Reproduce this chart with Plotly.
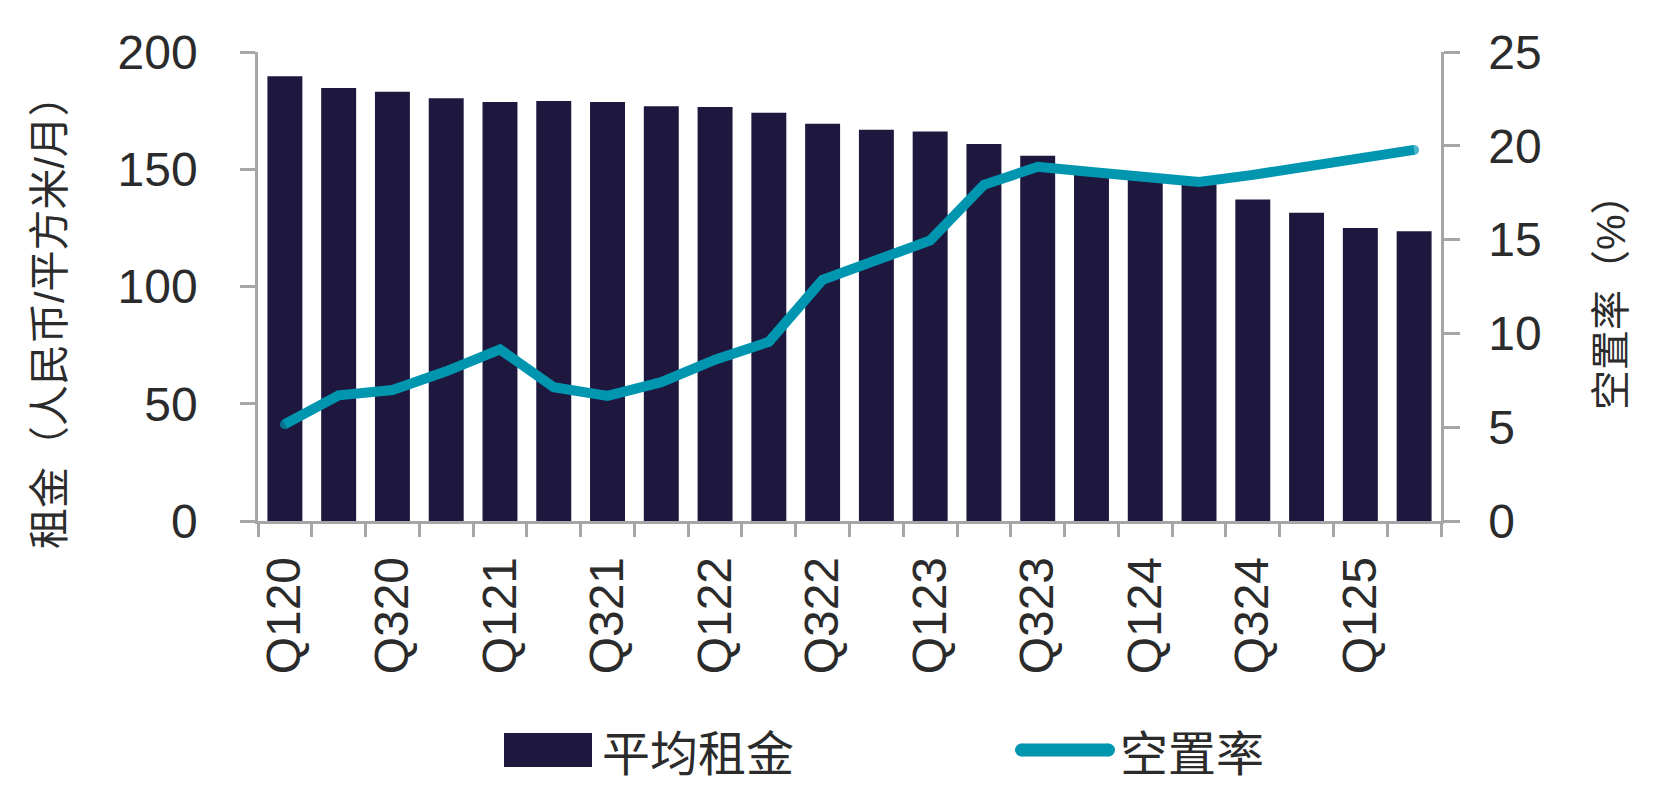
import plotly.graph_objects as go

quarters = ["Q120", "Q220", "Q320", "Q420", "Q121", "Q221", "Q321", "Q421",
            "Q122", "Q222", "Q322", "Q422", "Q123", "Q223", "Q323", "Q423",
            "Q124", "Q224", "Q324", "Q424", "Q125", "Q225"]
tick_labels = [q if i % 2 == 0 else "" for i, q in enumerate(quarters)]

avg_rent = [189.7, 184.6, 183.0, 180.3, 178.7, 179.1, 178.7, 176.9, 176.5, 174.1,
            169.4, 166.8, 166.1, 160.8, 155.8, 149.5, 146.5, 143.5, 137.1, 131.4,
            124.9, 123.6]
vacancy = [5.16, 6.70, 6.98, 7.98, 9.15, 7.13, 6.67, 7.40, 8.60, 9.55,
           12.86, 13.94, 14.95, 17.92, 18.88, 18.6, 18.36, 18.07, 18.45, 18.85,
           19.28, 19.78]

rent_left, vac_right = [0, 50, 100, 150, 200], [0, 5, 10, 15, 20, 25]

BAR = "#1E183F"
LINE = "#0096B0"
AX = "#A6A6A6"
TXT = "#2B2B2B"
FONT = "Liberation Sans, Arial, Noto Sans CJK SC, sans-serif"

# page offset of the figure (default body margin of the html page)
OFF = 8
W, H = 1657 - OFF, 792 - OFF
# plot area in page pixels
L, R, T, B = 258, 1441, 52, 521
pw, ph = R - L, B - T


def px(x):
    return (x - L) / pw


def py(y):
    return (B - y) / ph


fig = go.Figure()
fig.add_trace(go.Bar(x=quarters, y=avg_rent, name="平均租金", marker=dict(color=BAR),
                     yaxis="y"))
n = len(quarters)
fig.add_trace(go.Scatter(x=quarters, y=vacancy, name="空置率", mode="lines+markers",
                         line=dict(color=LINE, width=10),
                         marker=dict(color=LINE, size=[10] + [0] * (n - 2) + [10],
                                     line=dict(width=0)),
                         yaxis="y2"))

fig.update_layout(
    template="none",
    width=W, height=H,
    margin=dict(l=L - OFF, r=(W + OFF) - R, t=T - OFF, b=(H + OFF) - B, pad=0),
    paper_bgcolor="white", plot_bgcolor="white",
    font=dict(family=FONT, color=TXT, size=48),
    showlegend=False,
    bargap=0.35,
    xaxis=dict(type="category", range=[-0.5, n - 0.5], tickmode="array",
               tickvals=quarters, ticktext=tick_labels, tickson="boundaries",
               ticks="outside", ticklen=13, tickwidth=2.5, tickcolor=AX,
               showline=True, linecolor=AX, linewidth=2.5, showgrid=False,
               zeroline=False, automargin=False,
               tickangle=-90, tickfont=dict(size=48, color=TXT),
               ticklabelstandoff=14),
    yaxis=dict(range=[0, 200], tickmode="array", tickvals=rent_left,
               ticks="outside", ticklen=15, tickwidth=2.5, tickcolor=AX,
               showline=True, linecolor=AX, linewidth=2.5, showgrid=False,
               zeroline=False, automargin=False, tickfont=dict(size=48, color=TXT),
               ticklabelstandoff=33),
    yaxis2=dict(range=[0, 25], tickmode="array", tickvals=vac_right,
                overlaying="y", side="right",
                ticks="outside", ticklen=16, tickwidth=2.5, tickcolor=AX,
                showline=True, linecolor=AX, linewidth=2.5, showgrid=False,
                zeroline=False, automargin=False, tickfont=dict(size=48, color=TXT),
                ticklabelstandoff=19),
)

annotations = [
    dict(text="租金（人民币/平方米/月）", x=px(50), y=py(312), xref="paper", yref="paper",
         textangle=-90, showarrow=False, xanchor="center", yanchor="middle",
         font=dict(size=41, color=TXT, family=FONT)),
    dict(text="空置率（%）", x=px(1611), y=py(292), xref="paper", yref="paper",
         textangle=-90, showarrow=False, xanchor="center", yanchor="middle",
         font=dict(size=40, color=TXT, family=FONT)),
    dict(text="平均租金", x=px(600), y=py(754), xref="paper", yref="paper",
         showarrow=False, xanchor="left", yanchor="middle",
         font=dict(size=48, color=TXT, family=FONT)),
    dict(text="空置率", x=px(1118), y=py(754), xref="paper", yref="paper",
         showarrow=False, xanchor="left", yanchor="middle",
         font=dict(size=48, color=TXT, family=FONT)),
]
fig.update_layout(annotations=annotations)

r = 6.5
shapes = [
    dict(type="rect", xref="paper", yref="paper", x0=px(504), x1=px(592),
         y0=py(767), y1=py(733), fillcolor=BAR, line=dict(width=0)),
    dict(type="line", xref="paper", yref="paper", x0=px(1015 + r), x1=px(1115 - r),
         y0=py(750), y1=py(750), line=dict(color=LINE, width=13)),
    dict(type="circle", xref="paper", yref="paper", x0=px(1015), x1=px(1015 + 2 * r),
         y0=py(750 + r), y1=py(750 - r), fillcolor=LINE, line=dict(width=0)),
    dict(type="circle", xref="paper", yref="paper", x0=px(1115 - 2 * r), x1=px(1115),
         y0=py(750 + r), y1=py(750 - r), fillcolor=LINE, line=dict(width=0)),
]
fig.update_layout(shapes=shapes)

fig.write_html("out.html")
